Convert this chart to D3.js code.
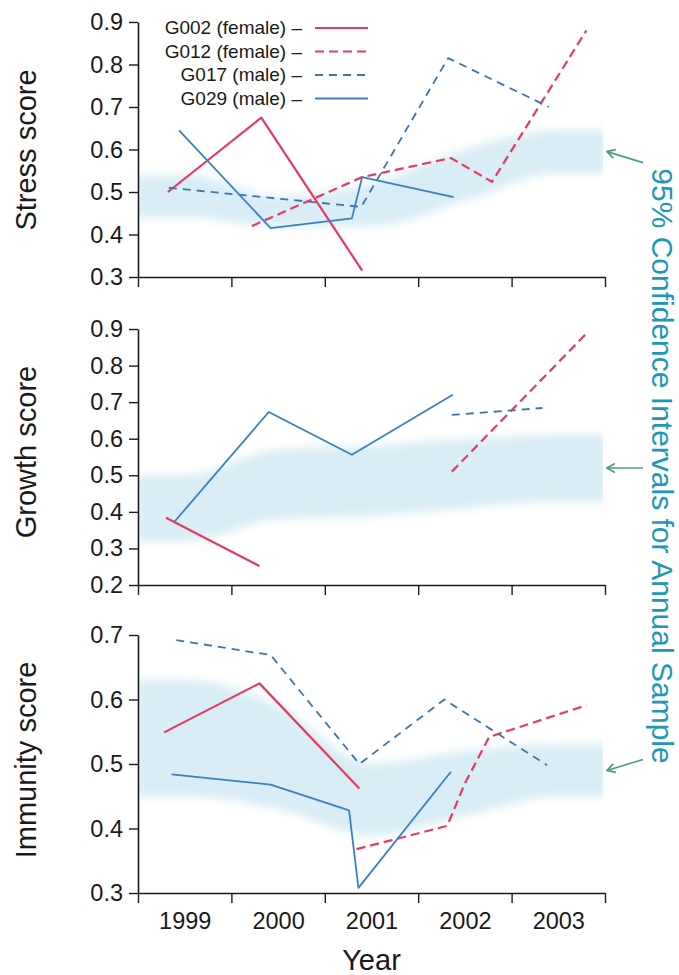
<!DOCTYPE html>
<html>
<head>
<meta charset="utf-8">
<script src="https://cdn.jsdelivr.net/npm/d3@7"></script>
<style>
  body { margin: 0; background: #fff; }
  svg { font-family: "Liberation Sans", Arial, Helvetica, sans-serif; }
</style>
</head>
<body>
<div id="wrapper"></div>
<script>
// data: [time in years, score]
const years = [1999, 2000, 2001, 2002, 2003];
const yearEdges = [1999, 2000, 2001, 2002, 2003, 2004];

// 95% CI per annual sample
const stressLow = [0.44, 0.42, 0.42, 0.48, 0.545];
const stressHigh = [0.54, 0.49, 0.52, 0.60, 0.645];
const growthLow = [0.32, 0.38, 0.39, 0.41, 0.43];
const growthHigh = [0.50, 0.57, 0.58, 0.60, 0.61];
const immunityLow = [0.45, 0.43, 0.39, 0.42, 0.45];
const immunityHigh = [0.63, 0.59, 0.50, 0.52, 0.53];

const stressG002 = [[1999.32, 0.5], [2000.32, 0.675], [2001.4, 0.315]];
const stressG012 = [[2000.22, 0.42], [2001.4, 0.535], [2002.35, 0.58], [2002.79, 0.524], [2003.8, 0.88]];
const stressG017 = [[1999.33, 0.51], [2001.39, 0.465], [2002.32, 0.815], [2003.4, 0.7]];
const stressG029 = [[1999.44, 0.645], [2000.42, 0.415], [2001.29, 0.438], [2001.4, 0.535], [2002.38, 0.488]];

const growthG002 = [[1999.3, 0.384], [2000.3, 0.252]];
const growthG012 = [[2002.36, 0.51], [2003.81, 0.89]];
const growthG017 = [[2002.36, 0.665], [2003.33, 0.684]];
const growthG029 = [[1999.39, 0.373], [2000.4, 0.673], [2001.29, 0.556], [2002.37, 0.72]];

const immunityG002 = [[1999.28, 0.549], [2000.3, 0.625], [2001.37, 0.462]];
const immunityG012 = [[2001.34, 0.368], [2002.31, 0.404], [2002.5, 0.47], [2002.76, 0.542], [2003.8, 0.591]];
const immunityG017 = [[1999.41, 0.692], [2000.42, 0.669], [2001.37, 0.5], [2002.28, 0.6], [2003.38, 0.498]];
const immunityG029 = [[1999.36, 0.484], [2000.42, 0.468], [2001.26, 0.428], [2001.36, 0.308], [2002.35, 0.488]];

const stressTicks = [0.3, 0.4, 0.5, 0.6, 0.7, 0.8, 0.9];
const growthTicks = [0.2, 0.3, 0.4, 0.5, 0.6, 0.7, 0.8, 0.9];
const immunityTicks = [0.3, 0.4, 0.5, 0.6, 0.7];

const subjects = ["G002 (female)", "G012 (female)", "G017 (male)", "G029 (male)"];

// styles per subject
const red = "#e63a5f";
const blue = "#3a80c2";
const blueDash = "#3f75a8";
const styles = [
  { color: red, dash: null, width: 2.2 },
  { color: red, dash: "9,5", width: 2.2 },
  { color: blueDash, dash: "8,6", width: 1.8 },
  { color: blue, dash: null, width: 1.8 },
];

const width = 679;
const height = 975;

const svg = d3
  .select("#wrapper")
  .append("svg")
  .attr("width", width)
  .attr("height", height);

const defs = svg.append("defs");
defs
  .append("filter")
  .attr("id", "soft")
  .attr("x", "-5%")
  .attr("y", "-40%")
  .attr("width", "110%")
  .attr("height", "180%")
  .append("feGaussianBlur")
  .attr("stdDeviation", "3 5");

defs
  .append("marker")
  .attr("id", "arrow")
  .attr("viewBox", "0 0 10 10")
  .attr("refX", 9)
  .attr("refY", 5)
  .attr("markerWidth", 7)
  .attr("markerHeight", 7)
  .attr("orient", "auto")
  .append("path")
  .attr("d", "M2,1 L9,5 L2,9")
  .attr("fill", "none")
  .attr("stroke", "#4f9c86")
  .attr("stroke-width", 1.6);

const xScale = d3.scaleLinear().domain([1999, 2004]).range([138, 605]);

const panels = [
  {
    title: "Stress score",
    low: stressLow,
    high: stressHigh,
    series: [stressG002, stressG012, stressG017, stressG029],
    ticks: stressTicks,
    domain: [0.3, 0.9],
    range: [277, 22],
    titleY: 150,
  },
  {
    title: "Growth score",
    low: growthLow,
    high: growthHigh,
    series: [growthG002, growthG012, growthG017, growthG029],
    ticks: growthTicks,
    domain: [0.2, 0.9],
    range: [585, 329],
    titleY: 452,
  },
  {
    title: "Immunity score",
    low: immunityLow,
    high: immunityHigh,
    series: [immunityG002, immunityG012, immunityG017, immunityG029],
    ticks: immunityTicks,
    domain: [0.3, 0.7],
    range: [893, 635],
    titleY: 760,
  },
];

panels.forEach((p, pi) => {
  const yScale = d3.scaleLinear().domain(p.domain).range(p.range);
  const g = svg.append("g");

  // confidence band: one value per year, drawn through year centres
  const bandData = [
    { t: 1999, lo: p.low[0], hi: p.high[0] },
    ...years.map((yr, i) => ({ t: yr + 0.5, lo: p.low[i], hi: p.high[i] })),
    { t: 2004, lo: p.low[years.length - 1], hi: p.high[years.length - 1] },
  ];
  const clipId = "clip" + pi;
  defs
    .append("clipPath")
    .attr("id", clipId)
    .append("rect")
    .attr("x", xScale(1999) + 1)
    .attr("y", p.range[1] - 10)
    .attr("width", xScale(2004) - xScale(1999) - 3)
    .attr("height", p.range[0] - p.range[1] + 10);

  g.append("g")
    .attr("clip-path", `url(#${clipId})`)
    .append("path")
    .datum(bandData)
    .attr("fill", "#d8edf5")
    .attr("filter", "url(#soft)")
    .attr(
      "d",
      d3
        .area()
        .curve(d3.curveMonotoneX)
        .x((d) => xScale(d.t))
        .y0((d) => yScale(d.lo))
        .y1((d) => yScale(d.hi))
    );

  // axes
  const yAxis = g
    .append("g")
    .attr("transform", `translate(${xScale(1999)},0)`)
    .call(
      d3
        .axisLeft(yScale)
        .tickValues(p.ticks)
        .tickFormat(d3.format(".1f"))
        .tickSize(9)
        .tickSizeOuter(0)
        .tickPadding(6)
    );
  yAxis.selectAll("text").attr("font-size", 23.5).attr("fill", "#1a1a1a");

  const xAxis = g
    .append("g")
    .attr("transform", `translate(0,${p.range[0]})`)
    .call(
      d3
        .axisBottom(xScale)
        .tickValues(yearEdges)
        .tickFormat("")
        .tickSize(10)
        .tickSizeOuter(0)
    );

  [yAxis, xAxis].forEach((a) => {
    a.select(".domain").attr("stroke", "#1a1a1a").attr("stroke-width", 1.6);
    a.selectAll(".tick line").attr("stroke", "#1a1a1a").attr("stroke-width", 1.4);
  });

  if (pi === panels.length - 1) {
    const labelAxis = g
      .append("g")
      .attr("transform", `translate(0,${p.range[0]})`)
      .call(
        d3
          .axisBottom(xScale)
          .tickValues(years.map((yr) => yr + 0.5))
          .tickFormat((d) => Math.floor(d))
          .tickSize(0)
          .tickPadding(19)
      );
    labelAxis.select(".domain").remove();
    labelAxis.selectAll("text").attr("font-size", 23.5).attr("fill", "#1a1a1a");

    g.append("text")
      .attr("x", xScale(2001.5))
      .attr("y", 970)
      .attr("text-anchor", "middle")
      .attr("font-size", 29)
      .attr("fill", "#1a1a1a")
      .text("Year");
  }

  // y title
  g.append("text")
    .attr("transform", `translate(36,${p.titleY}) rotate(-90)`)
    .attr("text-anchor", "middle")
    .attr("font-size", 29)
    .attr("fill", "#1a1a1a")
    .text(p.title);

  // subject lines
  const line = d3
    .line()
    .x((d) => xScale(d[0]))
    .y((d) => yScale(d[1]));

  g.selectAll(".subject")
    .data(p.series)
    .join("path")
    .attr("class", "subject")
    .attr("fill", "none")
    .attr("stroke", (d, i) => styles[i].color)
    .attr("stroke-width", (d, i) => styles[i].width)
    .attr("stroke-dasharray", (d, i) => styles[i].dash)
    .attr("stroke-linejoin", "round")
    .attr("d", line);

  // arrow pointing at the band (last year)
  const last = years.length - 1;
  const mid = yScale((p.low[last] + p.high[last]) / 2);
  const tilt = [11, 0, -11][pi];
  g.append("line")
    .attr("x1", 643)
    .attr("y1", mid + tilt)
    .attr("x2", 607)
    .attr("y2", mid)
    .attr("stroke", "#4f9c86")
    .attr("stroke-width", 1.6)
    .attr("marker-end", "url(#arrow)");
});

// legend
const legend = svg.append("g");
subjects.forEach((s, i) => {
  const ly = 28 + i * 23.5;
  legend
    .append("text")
    .attr("x", 302)
    .attr("y", ly + 6)
    .attr("text-anchor", "end")
    .attr("font-size", 19)
    .attr("fill", "#1a1a1a")
    .text(s + " \u2013");
  legend
    .append("line")
    .attr("x1", 315)
    .attr("x2", 368)
    .attr("y1", ly)
    .attr("y2", ly)
    .attr("stroke", styles[i].color)
    .attr("stroke-width", styles[i].width)
    .attr("stroke-dasharray", styles[i].dash);
});

// side note
svg
  .append("text")
  .attr("transform", "translate(652,466) rotate(90)")
  .attr("text-anchor", "middle")
  .attr("font-size", 30)
  .attr("fill", "#2197b6")
  .text("95% Confidence Intervals for Annual Sample");
</script>
</body>
</html>
